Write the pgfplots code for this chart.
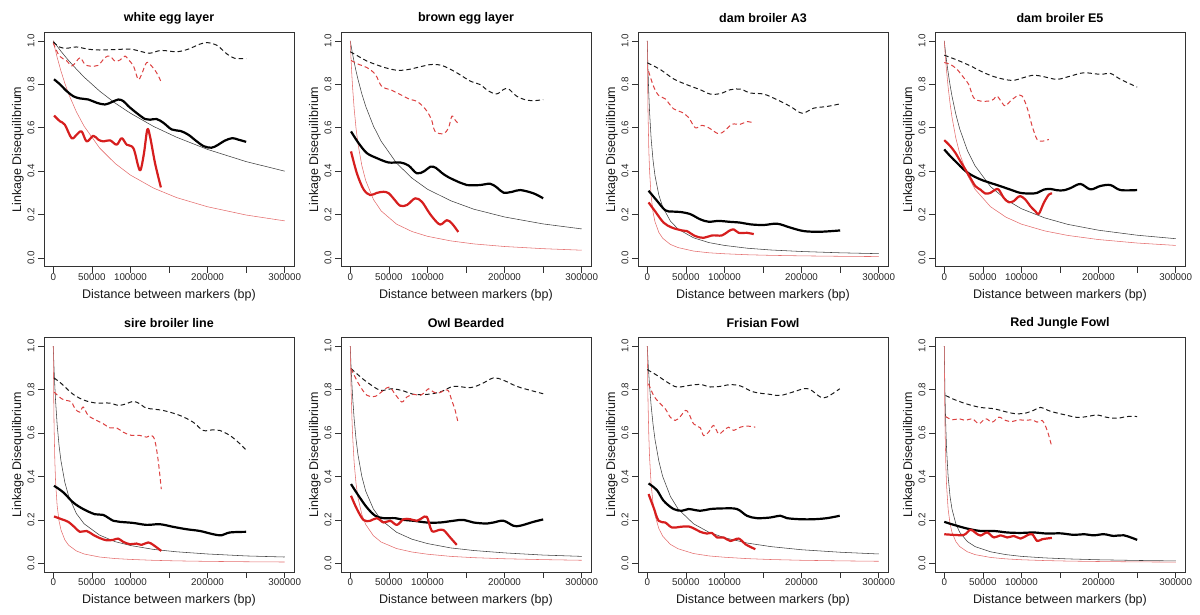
\documentclass[border=0pt]{standalone}
\usepackage{fontspec}
\setmainfont{Liberation Sans}
\usepackage{pgfplots}
\pgfplotsset{compat=1.18}
\definecolor{myred}{RGB}{214,30,30}
\pgfplotsset{
 ldpanel/.style={
  scale only axis, width=250pt, height=234.5pt,
  xmin=-12000, xmax=312000, ymin=-0.04, ymax=1.04,
  xtick={0,50000,100000,150000,200000,250000,300000},
  xticklabels={0,50000,100000,,200000,,300000},
  ytick={0,0.2,0.4,0.6,0.8,1},
  yticklabels={0.0,0.2,0.4,0.6,0.8,1.0},
  scaled x ticks=false, scaled y ticks=false,
  tick align=outside, xtick pos=bottom, ytick pos=left,
  major tick length=6pt,
  tick style={black!80, line width=0.6pt},
  axis line style={black!80, line width=0.8pt},
  ticklabel style={font=\fontsize{9.8}{11}\selectfont, text=black!85},
  xticklabel style={yshift=2.5pt},
  yticklabel style={rotate=90, anchor=south},
  xlabel={Distance between markers (bp)},
  ylabel={Linkage Disequilibrium},
  label style={font=\fontsize{12.5}{14}\selectfont, text=black!90},
  xlabel style={at={(axis description cs:0.5,-0.12)}, anchor=center},
  ylabel style={at={(axis description cs:-0.104,0.5)}, anchor=center},
  every axis title shift=0pt,
  title style={at={(axis description cs:0.5,1.06)}, anchor=center, font=\fontsize{12.5}{14}\selectfont\bfseries},
  no markers,
 },
 thinb/.style={black!75, line width=0.55pt},
 thinr/.style={myred!65, line width=0.55pt},
 dashb/.style={black!90, line width=1pt, dash pattern=on 4.5pt off 3pt, smooth, tension=0.55},
 dashr/.style={myred!85, line width=1pt, dash pattern=on 4.5pt off 3pt, smooth, tension=0.55},
 thickb/.style={black, line width=2.2pt, smooth, tension=0.55, line join=round},
 thickr/.style={myred, line width=2.2pt, smooth, tension=0.55, line join=round},
}
\begin{document}
\begin{tikzpicture}
\path[use as bounding box] (0,0) rectangle (1200pt,614pt);

% Panel 1
\begin{axis}[ldpanel, at={(44pt,347.3pt)}, anchor=south west, title={white egg layer}]
\addplot[thinb] coordinates {(0,1)(5000,0.976)(10000,0.952)(20000,0.909)(30000,0.870)(40000,0.833)(60000,0.769)(80000,0.714)(100000,0.667)(130000,0.606)(160000,0.556)(200000,0.5)(250000,0.444)(300000,0.4)};
\addplot[thinr] coordinates {(0,1)(2000,0.969)(5000,0.925)(10000,0.861)(15000,0.805)(20000,0.755)(30000,0.673)(40000,0.607)(60000,0.507)(80000,0.436)(100000,0.382)(130000,0.322)(160000,0.278)(200000,0.236)(250000,0.198)(300000,0.171)};
\addplot[dashb] coordinates {(0,0.995)(8000,0.972)(17000,0.966)(30000,0.972)(45000,0.962)(60000,0.958)(80000,0.960)(100000,0.962)(115000,0.950)(125000,0.943)(140000,0.956)(160000,0.950)(175000,0.962)(190000,0.985)(200000,0.992)(212000,0.980)(225000,0.940)(235000,0.920)(250000,0.918)};
\addplot[dashr] coordinates {(0,0.99)(8000,0.93)(17000,0.91)(24000,0.885)(30000,0.905)(35000,0.923)(41000,0.892)(47500,0.884)(58000,0.887)(67000,0.923)(73500,0.930)(80000,0.907)(86500,0.912)(93000,0.930)(97000,0.915)(104000,0.884)(110000,0.823)(114500,0.846)(121000,0.900)(127500,0.884)(134000,0.853)(140000,0.81)};
\addplot[thickb] coordinates {(1000,0.823)(8700,0.80)(17300,0.769)(26000,0.745)(34600,0.735)(45500,0.730)(56300,0.715)(67000,0.707)(75800,0.718)(84400,0.730)(91000,0.722)(97500,0.699)(108000,0.668)(119000,0.640)(125500,0.637)(134000,0.640)(143000,0.622)(153600,0.592)(165000,0.585)(175000,0.568)(185000,0.540)(195000,0.515)(205000,0.508)(213000,0.520)(222000,0.540)(232000,0.552)(240000,0.545)(250000,0.535)};
\addplot[thickr] coordinates {(1000,0.656)(8600,0.63)(15000,0.614)(23800,0.552)(30300,0.568)(36800,0.583)(43300,0.537)(51900,0.563)(58400,0.545)(65000,0.537)(73600,0.542)(82200,0.522)(88700,0.552)(95200,0.522)(103800,0.506)(110300,0.421)(113300,0.406)(117600,0.483)(121900,0.591)(125400,0.560)(131900,0.437)(139500,0.325)};
\end{axis}

% Panel 2
\begin{axis}[ldpanel, at={(341pt,347.3pt)}, anchor=south west, title={brown egg layer}]
\addplot[thinb] coordinates {(0,1)(1000,0.979)(2000,0.959)(3000,0.939)(5000,0.903)(7500,0.861)(10000,0.823)(15000,0.756)(20000,0.699)(30000,0.608)(40000,0.538)(60000,0.437)(80000,0.368)(100000,0.317)(130000,0.264)(160000,0.225)(200000,0.189)(250000,0.157)(300000,0.134)};
\addplot[thinr] coordinates {(0,1)(500,0.957)(1000,0.917)(2000,0.847)(3000,0.787)(5000,0.690)(7500,0.597)(10000,0.526)(15000,0.426)(20000,0.357)(30000,0.270)(40000,0.217)(60000,0.156)(80000,0.122)(100000,0.1)(130000,0.079)(160000,0.065)(200000,0.053)(250000,0.043)(300000,0.036)};
\addplot[dashb] coordinates {(0,0.95)(10000,0.93)(21600,0.907)(38800,0.884)(50000,0.872)(62600,0.864)(75000,0.868)(86300,0.877)(97000,0.886)(107900,0.892)(120900,0.884)(138100,0.853)(155400,0.815)(168300,0.799)(179100,0.769)(189900,0.756)(198600,0.776)(205000,0.779)(215800,0.745)(228800,0.727)(240000,0.725)(250000,0.730)};
\addplot[dashr] coordinates {(1000,0.910)(10800,0.892)(21600,0.877)(32400,0.846)(41000,0.789)(51800,0.776)(64700,0.753)(77700,0.730)(86300,0.722)(97100,0.687)(105000,0.640)(110000,0.583)(120900,0.573)(127300,0.599)(131700,0.653)(136000,0.635)(140000,0.619)};
\addplot[thickb] coordinates {(1000,0.583)(10800,0.529)(21600,0.483)(34500,0.460)(49600,0.440)(64700,0.440)(75500,0.426)(86300,0.390)(96000,0.400)(104000,0.421)(111000,0.415)(118700,0.392)(127300,0.372)(142400,0.347)(151100,0.336)(168300,0.336)(181300,0.342)(190000,0.325)(198600,0.301)(210000,0.305)(220200,0.313)(237400,0.298)(250000,0.275)};
\addplot[thickr] coordinates {(1000,0.491)(8600,0.390)(17300,0.316)(25900,0.290)(34500,0.300)(43200,0.305)(50000,0.298)(57000,0.270)(64700,0.241)(73400,0.244)(84200,0.275)(92800,0.259)(101400,0.213)(107900,0.182)(116600,0.154)(125200,0.174)(131700,0.159)(140000,0.120)};
\end{axis}

% Panel 3
\begin{axis}[ldpanel, at={(638pt,347.3pt)}, anchor=south west, title={dam broiler A3}]
\addplot[thinb] coordinates {(0,1)(500,0.925)(1000,0.860)(2000,0.754)(3000,0.672)(5000,0.551)(7500,0.450)(10000,0.380)(15000,0.290)(20000,0.235)(30000,0.170)(40000,0.133)(60000,0.093)(80000,0.071)(100000,0.058)(130000,0.045)(160000,0.037)(200000,0.030)(250000,0.024)(300000,0.020)};
\addplot[thinr] coordinates {(0,1)(500,0.8)(1000,0.667)(2000,0.5)(3000,0.4)(5000,0.286)(7500,0.211)(10000,0.167)(15000,0.118)(20000,0.091)(30000,0.0625)(40000,0.048)(60000,0.032)(80000,0.024)(100000,0.0196)(130000,0.015)(160000,0.0123)(200000,0.0099)(250000,0.0079)(300000,0.0066)};
\addplot[dashb] coordinates {(0,0.899)(16900,0.868)(34100,0.825)(51400,0.798)(68700,0.775)(81700,0.755)(94700,0.757)(107600,0.775)(120600,0.778)(133600,0.760)(150900,0.755)(168200,0.729)(185500,0.698)(200600,0.667)(215700,0.690)(233100,0.698)(250000,0.710)};
\addplot[dashr] coordinates {(1700,0.86)(8200,0.79)(14700,0.749)(23300,0.733)(34100,0.687)(45000,0.671)(53600,0.647)(62200,0.600)(70900,0.611)(79600,0.600)(92500,0.572)(101200,0.589)(109800,0.616)(120600,0.616)(129300,0.628)(138000,0.622)};
\addplot[thickb] coordinates {(1700,0.310)(12500,0.264)(23300,0.220)(32000,0.214)(42800,0.212)(55800,0.202)(68700,0.178)(79600,0.167)(92500,0.171)(105500,0.167)(120600,0.163)(133600,0.155)(150900,0.152)(168200,0.158)(185500,0.140)(202800,0.124)(224400,0.121)(250000,0.127)};
\addplot[thickr] coordinates {(1700,0.256)(10400,0.214)(21200,0.163)(32000,0.140)(45000,0.127)(51400,0.124)(62200,0.101)(73000,0.093)(83900,0.104)(96800,0.104)(105500,0.124)(112000,0.132)(118500,0.116)(129300,0.116)(138000,0.110)};
\end{axis}

% Panel 4
\begin{axis}[ldpanel, at={(935pt,347.3pt)}, anchor=south west, title={dam broiler E5}]
\addplot[thinb] coordinates {(0,1)(500,0.983)(1000,0.967)(2000,0.936)(3000,0.907)(5000,0.855)(7500,0.797)(10000,0.746)(15000,0.662)(20000,0.595)(30000,0.495)(40000,0.424)(60000,0.329)(80000,0.269)(100000,0.227)(130000,0.185)(160000,0.155)(200000,0.128)(250000,0.105)(300000,0.089)};
\addplot[thinr] coordinates {(0,1)(500,0.974)(1000,0.949)(2000,0.903)(3000,0.861)(5000,0.787)(7500,0.712)(10000,0.649)(15000,0.552)(20000,0.481)(30000,0.382)(40000,0.316)(60000,0.236)(80000,0.188)(100000,0.156)(130000,0.125)(160000,0.104)(200000,0.085)(250000,0.069)(300000,0.058)};
\addplot[dashb] coordinates {(0,0.934)(16500,0.912)(33800,0.885)(51100,0.854)(68400,0.831)(87900,0.818)(103000,0.831)(116000,0.842)(129000,0.835)(146300,0.823)(163600,0.838)(180900,0.853)(202500,0.846)(215400,0.850)(228400,0.823)(250000,0.787)};
\addplot[dashr] coordinates {(0,0.9)(7800,0.892)(16500,0.869)(25100,0.831)(31600,0.80)(38100,0.738)(46800,0.723)(57600,0.723)(64100,0.731)(68400,0.746)(74900,0.715)(79200,0.70)(85700,0.723)(94400,0.746)(100900,0.746)(107400,0.692)(113900,0.608)(120300,0.546)(126800,0.538)(135500,0.546)};
\addplot[thickb] coordinates {(0,0.5)(7800,0.469)(16500,0.438)(25100,0.408)(33800,0.385)(46800,0.362)(59700,0.346)(72700,0.331)(85700,0.315)(98700,0.300)(111700,0.297)(120300,0.300)(129000,0.315)(137700,0.318)(146300,0.312)(155000,0.312)(163600,0.322)(176500,0.341)(189500,0.316)(202500,0.332)(215400,0.336)(228400,0.313)(250000,0.313)};
\addplot[thickr] coordinates {(0,0.543)(7800,0.515)(14300,0.485)(20800,0.446)(27300,0.408)(33800,0.369)(40300,0.331)(46800,0.315)(53200,0.297)(59700,0.300)(66200,0.315)(70600,0.315)(77100,0.277)(83500,0.257)(90000,0.262)(94400,0.277)(98700,0.285)(105200,0.269)(111700,0.238)(118200,0.215)(122500,0.203)(129000,0.254)(135500,0.292)(139800,0.297)};
\end{axis}

% Panel 5
\begin{axis}[ldpanel, at={(44pt,42pt)}, anchor=south west, title={sire broiler line}]
\addplot[thinb] coordinates {(0,1)(500,0.947)(1000,0.899)(2000,0.817)(3000,0.749)(5000,0.641)(7500,0.543)(10000,0.472)(15000,0.373)(20000,0.309)(30000,0.229)(40000,0.182)(60000,0.130)(80000,0.100)(100000,0.082)(130000,0.064)(160000,0.053)(200000,0.043)(250000,0.034)(300000,0.029)};
\addplot[thinr] coordinates {(0,1)(500,0.784)(1000,0.645)(2000,0.476)(3000,0.377)(5000,0.267)(7500,0.195)(10000,0.154)(15000,0.108)(20000,0.083)(30000,0.057)(40000,0.043)(60000,0.029)(80000,0.022)(100000,0.018)(130000,0.0138)(160000,0.0112)(200000,0.009)(250000,0.0072)(300000,0.006)};
\addplot[dashb] coordinates {(1000,0.854)(10800,0.827)(25900,0.778)(41000,0.750)(56100,0.738)(73400,0.738)(84200,0.727)(95000,0.735)(103600,0.746)(112200,0.735)(120900,0.715)(142400,0.704)(164100,0.681)(181300,0.650)(194200,0.612)(207200,0.615)(215800,0.612)(228800,0.589)(239600,0.558)(250000,0.522)};
\addplot[dashr] coordinates {(1000,0.789)(10800,0.758)(17300,0.750)(23700,0.743)(28100,0.712)(34500,0.696)(38800,0.720)(45300,0.681)(56100,0.658)(64700,0.643)(73400,0.624)(82000,0.624)(90600,0.604)(101400,0.589)(112200,0.589)(120900,0.581)(127300,0.589)(131700,0.565)(136000,0.473)(140000,0.342)};
\addplot[thickb] coordinates {(1000,0.357)(13000,0.327)(25900,0.280)(38800,0.250)(54000,0.226)(64700,0.223)(77700,0.196)(86300,0.191)(103600,0.186)(120900,0.177)(138100,0.180)(155400,0.168)(172700,0.157)(189900,0.149)(207200,0.134)(218000,0.129)(228800,0.142)(250000,0.145)};
\addplot[thickr] coordinates {(1000,0.216)(10800,0.203)(19400,0.191)(28100,0.165)(34500,0.145)(43200,0.149)(51800,0.131)(60400,0.116)(69100,0.106)(77700,0.108)(84200,0.114)(90600,0.099)(99300,0.088)(107900,0.091)(114400,0.085)(123000,0.096)(129500,0.085)(140000,0.057)};
\end{axis}

% Panel 6
\begin{axis}[ldpanel, at={(341pt,42pt)}, anchor=south west, title={Owl Bearded}]
\addplot[thinb] coordinates {(0,1)(500,0.952)(1000,0.909)(2000,0.833)(3000,0.769)(5000,0.667)(7500,0.571)(10000,0.5)(15000,0.4)(20000,0.333)(30000,0.25)(40000,0.2)(60000,0.143)(80000,0.111)(100000,0.091)(130000,0.071)(160000,0.059)(200000,0.048)(250000,0.038)(300000,0.032)};
\addplot[thinr] coordinates {(0,1)(500,0.897)(1000,0.813)(2000,0.685)(3000,0.592)(5000,0.465)(7500,0.367)(10000,0.303)(15000,0.225)(20000,0.179)(30000,0.127)(40000,0.098)(60000,0.068)(80000,0.052)(100000,0.042)(130000,0.032)(160000,0.026)(200000,0.021)(250000,0.017)(300000,0.014)};
\addplot[dashb] coordinates {(1000,0.897)(10800,0.866)(21600,0.835)(38800,0.797)(54000,0.804)(69100,0.794)(82000,0.778)(99300,0.778)(116600,0.789)(133800,0.815)(155400,0.809)(170500,0.827)(185600,0.854)(198600,0.843)(215800,0.815)(233100,0.797)(250000,0.781)};
\addplot[dashr] coordinates {(1000,0.897)(10800,0.827)(21600,0.774)(32400,0.769)(43200,0.797)(50900,0.812)(58300,0.778)(66900,0.743)(73400,0.766)(82000,0.778)(90600,0.774)(97100,0.789)(101400,0.804)(107900,0.789)(114400,0.784)(123000,0.797)(127300,0.794)(131600,0.750)(136000,0.704)(140000,0.643)};
\addplot[thickb] coordinates {(1000,0.365)(10800,0.311)(21600,0.257)(32400,0.219)(43200,0.208)(58300,0.208)(69100,0.200)(82000,0.196)(99300,0.188)(116600,0.188)(133800,0.196)(146800,0.200)(159700,0.188)(177000,0.183)(185600,0.188)(198600,0.196)(211500,0.173)(220200,0.173)(237400,0.191)(250000,0.202)};
\addplot[thickr] coordinates {(1000,0.311)(8600,0.250)(17300,0.199)(25900,0.196)(34500,0.208)(43200,0.188)(51800,0.196)(60400,0.177)(69100,0.203)(77700,0.203)(86300,0.196)(92800,0.208)(99300,0.214)(105700,0.149)(114400,0.153)(120900,0.153)(129500,0.119)(138000,0.085)};
\end{axis}

% Panel 7
\begin{axis}[ldpanel, at={(638pt,42pt)}, anchor=south west, title={Frisian Fowl}]
\addplot[thinb] coordinates {(0,1)(500,0.964)(1000,0.930)(2000,0.870)(3000,0.816)(5000,0.727)(7500,0.640)(10000,0.571)(15000,0.471)(20000,0.4)(30000,0.308)(40000,0.25)(60000,0.182)(80000,0.143)(100000,0.118)(130000,0.093)(160000,0.077)(200000,0.0625)(250000,0.051)(300000,0.043)};
\addplot[thinr] coordinates {(0,1)(500,0.851)(1000,0.741)(2000,0.588)(3000,0.488)(5000,0.364)(7500,0.276)(10000,0.222)(15000,0.16)(20000,0.125)(30000,0.087)(40000,0.067)(60000,0.045)(80000,0.034)(100000,0.028)(130000,0.0215)(160000,0.0175)(200000,0.014)(250000,0.0113)(300000,0.0094)};
\addplot[dashb] coordinates {(0,0.892)(12500,0.866)(25500,0.835)(38500,0.812)(55800,0.820)(68700,0.824)(81700,0.812)(94700,0.815)(107600,0.823)(120600,0.817)(137900,0.789)(159500,0.778)(172500,0.773)(189800,0.790)(202800,0.804)(211400,0.800)(224400,0.766)(233000,0.766)(249500,0.804)};
\addplot[dashr] coordinates {(1700,0.827)(8200,0.773)(14700,0.743)(23300,0.712)(29800,0.673)(36300,0.658)(42800,0.676)(49300,0.704)(53600,0.692)(60100,0.642)(68700,0.624)(73100,0.588)(79500,0.604)(86000,0.635)(92500,0.596)(99000,0.612)(105500,0.627)(112000,0.612)(120600,0.627)(129300,0.632)(140000,0.627)};
\addplot[thickb] coordinates {(1700,0.368)(12500,0.337)(21200,0.288)(34100,0.250)(45000,0.242)(53600,0.250)(68700,0.242)(81700,0.250)(99000,0.253)(116300,0.250)(129200,0.219)(142200,0.208)(159500,0.211)(172500,0.219)(181100,0.208)(198400,0.203)(215700,0.203)(233000,0.208)(249400,0.219)};
\addplot[thickr] coordinates {(1700,0.319)(8200,0.257)(14700,0.196)(23300,0.188)(32000,0.165)(42800,0.168)(53600,0.170)(62300,0.157)(68700,0.145)(77400,0.137)(83900,0.140)(90400,0.119)(99000,0.119)(107600,0.103)(118500,0.114)(127100,0.088)(140000,0.065)};
\end{axis}

% Panel 8
\begin{axis}[ldpanel, at={(935pt,42pt)}, anchor=south west, title={Red Jungle Fowl}]
\addplot[thinb] coordinates {(0,1)(500,0.870)(1000,0.769)(2000,0.625)(3000,0.526)(5000,0.4)(7500,0.308)(10000,0.25)(15000,0.182)(20000,0.143)(30000,0.1)(40000,0.077)(60000,0.053)(80000,0.04)(100000,0.032)(130000,0.025)(160000,0.0204)(200000,0.0164)(250000,0.0132)(300000,0.011)};
\addplot[thinr] coordinates {(0,1)(500,0.769)(1000,0.625)(2000,0.455)(3000,0.357)(5000,0.25)(7500,0.182)(10000,0.143)(15000,0.1)(20000,0.077)(30000,0.053)(40000,0.04)(60000,0.027)(80000,0.0204)(100000,0.0164)(130000,0.0127)(160000,0.0103)(200000,0.0083)(250000,0.0066)(300000,0.0055)};
\addplot[dashb] coordinates {(1700,0.773)(12500,0.755)(29800,0.733)(47000,0.718)(64300,0.712)(77300,0.700)(90200,0.690)(103200,0.690)(116100,0.705)(124800,0.718)(137800,0.700)(155000,0.685)(172300,0.672)(185200,0.676)(198200,0.683)(211100,0.672)(224100,0.668)(237000,0.676)(250000,0.676)};
\addplot[dashr] coordinates {(1700,0.676)(10400,0.661)(19000,0.666)(27600,0.658)(36300,0.666)(44900,0.643)(53500,0.666)(62200,0.650)(70800,0.673)(79400,0.658)(88000,0.653)(96700,0.661)(105300,0.658)(113900,0.661)(120400,0.650)(126900,0.658)(133400,0.612)(139500,0.535)};
\addplot[thickb] coordinates {(0,0.191)(12500,0.177)(29800,0.160)(47000,0.149)(64300,0.149)(81600,0.142)(98900,0.140)(116100,0.142)(133400,0.137)(150700,0.138)(168000,0.131)(180800,0.134)(193800,0.129)(206800,0.134)(219700,0.126)(232700,0.129)(250000,0.108)};
\addplot[thickr] coordinates {(0,0.134)(12500,0.131)(25500,0.131)(34100,0.155)(40600,0.140)(47000,0.128)(55700,0.142)(64300,0.119)(73000,0.129)(81600,0.119)(90200,0.126)(98900,0.114)(107500,0.129)(114000,0.134)(120400,0.103)(126900,0.111)(139500,0.117)};
\end{axis}
\end{tikzpicture}
\end{document}
